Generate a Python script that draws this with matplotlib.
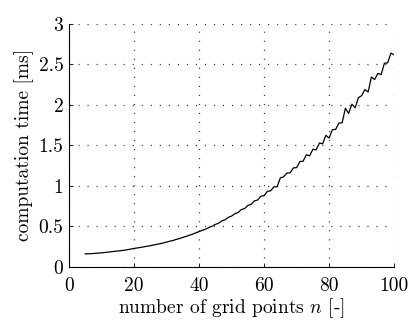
import matplotlib
matplotlib.use('Agg')
import matplotlib.pyplot as plt
import matplotlib.ticker as mtick

plt.rcParams['font.family'] = 'serif'
plt.rcParams['font.serif'] = ['cmr10', 'DejaVu Serif']
plt.rcParams['mathtext.fontset'] = 'cm'
plt.rcParams['axes.formatter.use_mathtext'] = True
plt.rcParams['lines.scale_dashes'] = False

# grid points n = 5..100
grid_points = list(range(5, 101))
comp_time_ms = [
    0.160, 0.162, 0.164, 0.167, 0.170, 0.174, 0.178, 0.182, 0.187, 0.192,
    0.196, 0.200, 0.206, 0.213, 0.220, 0.228, 0.234, 0.240, 0.248, 0.255,
    0.262, 0.270, 0.278, 0.287, 0.296, 0.306, 0.318, 0.326, 0.340, 0.350,
    0.364, 0.376, 0.391, 0.404, 0.420, 0.436, 0.452, 0.466, 0.485, 0.502,
    0.524, 0.540, 0.568, 0.582, 0.612, 0.628, 0.656, 0.672, 0.708, 0.720,
    0.760, 0.772, 0.815, 0.826, 0.872, 0.880, 0.932, 0.940, 0.988, 0.990,
    1.100, 1.112, 1.158, 1.162, 1.222, 1.226, 1.300, 1.306, 1.385, 1.372,
    1.452, 1.446, 1.530, 1.520, 1.625, 1.590, 1.695, 1.698, 1.775, 1.780,
    1.960, 1.895, 2.010, 1.965, 2.090, 2.115, 2.190, 2.160, 2.345, 2.315,
    2.390, 2.375, 2.515, 2.520, 2.640, 2.620,
]
x_ticks = [0, 20, 40, 60, 80, 100]
y_ticks = [0, 0.5, 1, 1.5, 2, 2.5, 3]

fig = plt.figure(figsize=(4.11, 3.2), dpi=100)
ax = fig.add_axes([0.168, 0.166, 0.791, 0.759])

ax.plot(grid_points, comp_time_ms, color='black', linewidth=0.9)

ax.set_xlim(0, 100)
ax.set_ylim(0, 3)
ax.set_xticks(x_ticks)
ax.set_yticks(y_ticks)
ax.yaxis.set_major_formatter(mtick.FormatStrFormatter('%g'))
ax.xaxis.set_major_formatter(mtick.FormatStrFormatter('%g'))
ax.tick_params(direction='in', length=3, width=0.6, labelsize=14)
ax.tick_params(axis='x', pad=7)
ax.tick_params(axis='y', pad=4)

ax.grid(True, linestyle=(0, (0.8, 5.7)), color='#333333', linewidth=0.9)
ax.spines['top'].set_visible(False)
ax.spines['right'].set_visible(False)
for s in ('left', 'bottom'):
    ax.spines[s].set_linewidth(0.8)

ax.set_xlabel('number of grid points $n$ [-]', fontsize=14, labelpad=1.5)
ax.set_ylabel('computation time [ms]', fontsize=14, labelpad=3)

fig.savefig('out.png', dpi=100)
